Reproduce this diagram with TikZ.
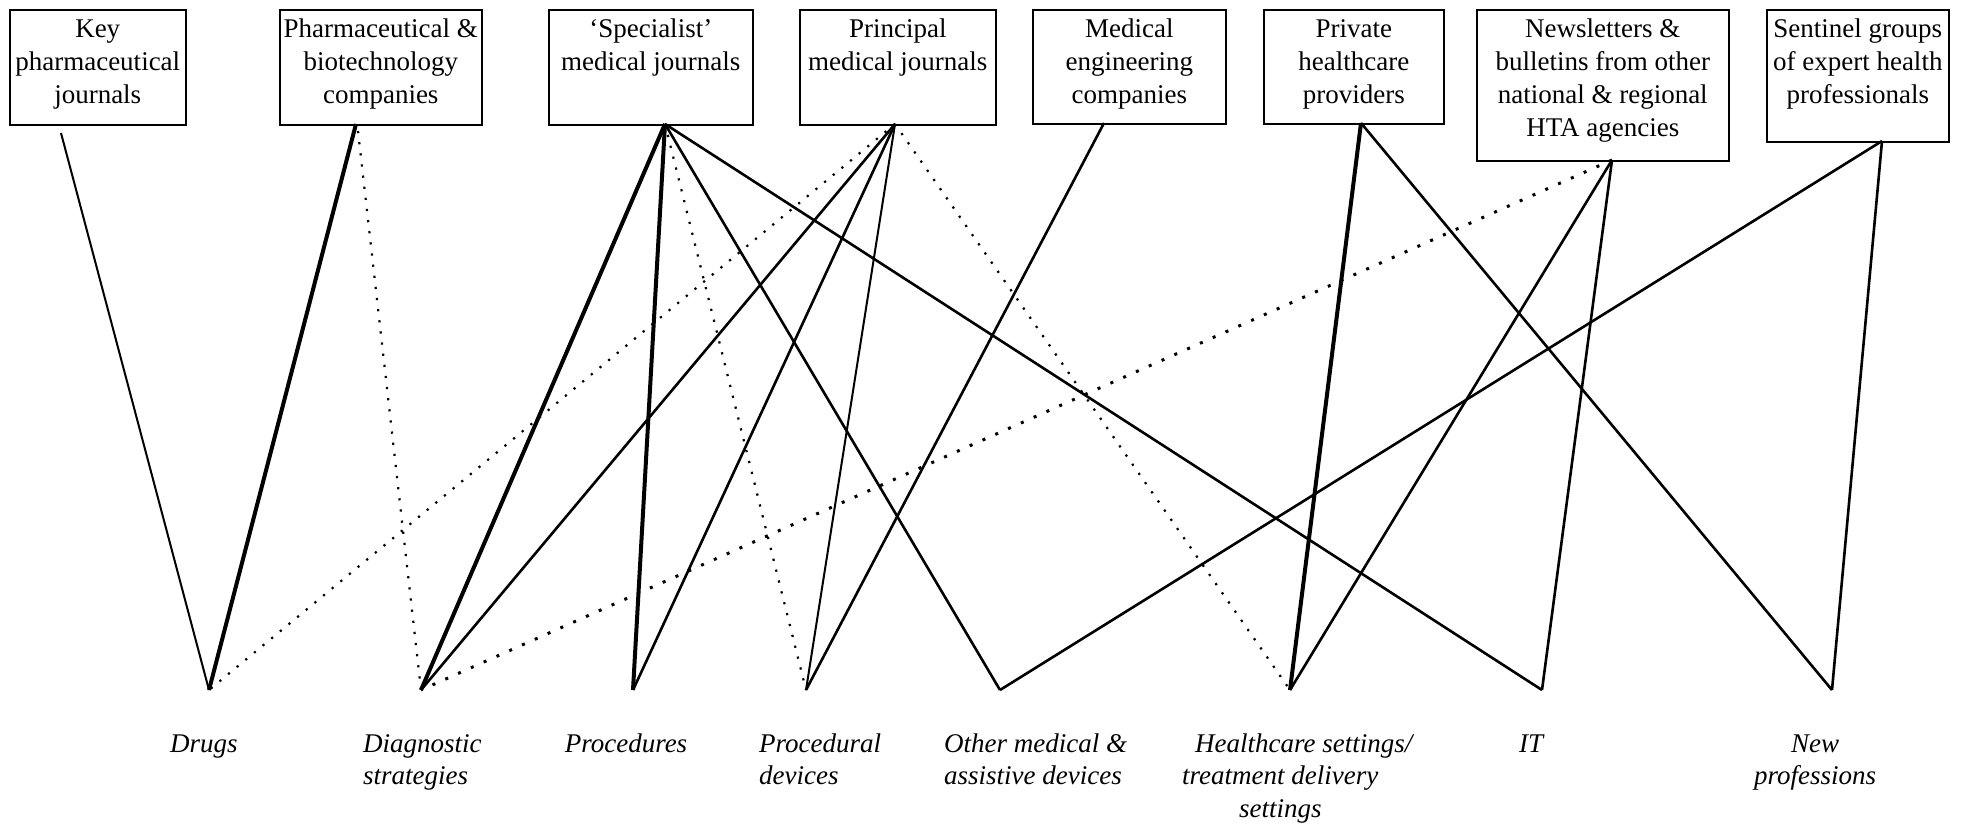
\documentclass[tikz,border=0pt]{standalone}
\usepackage{fontspec}
\setmainfont{Liberation Serif}
% source box: fixed width and height, text set from the top
\newcommand\srctext[3]{\parbox[t][#2pt][t]{#1pt}{\centering\fontsize{27}{33}\selectfont\rule{0pt}{28pt}#3}}
\begin{document}
\begin{tikzpicture}[x=1pt,y=-1pt,
  srcbox/.style={draw, line width=1.5pt, inner sep=0pt, anchor=north west},
  edge/.style={line width=2.6pt, line join=round},
  heavy/.style={line width=4pt, line join=round},
  light/.style={line width=2pt},
  dots/.style={line width=2.2pt, dash pattern=on 2.2pt off 9pt},
  bigdots/.style={line width=3pt, dash pattern=on 3pt off 11pt},
  lab/.style={font=\fontsize{27}{32.5}\selectfont\itshape, inner sep=0pt, align=left}
]
\useasboundingbox (0,0) rectangle (1968,825);

% information sources
\node[srcbox] (b1) at (9,9)    {\srctext{176}{115}{Key\\pharmaceutical\\journals}};
\node[srcbox] (b2) at (279,9)  {\srctext{202}{115}{Pharmaceutical \&\\biotechnology\\companies}};
\node[srcbox] (b3) at (548,9)  {\srctext{204}{115}{`Specialist'\\medical journals}};
\node[srcbox] (b4) at (799,9)  {\srctext{196}{115}{Principal\\medical journals}};
\node[srcbox] (b5) at (1032,9) {\srctext{193}{114}{Medical\\engineering\\companies}};
\node[srcbox] (b6) at (1263,9) {\srctext{180}{114}{Private\\healthcare\\providers}};
\node[srcbox] (b7) at (1476,9) {\srctext{252}{151}{Newsletters \&\\bulletins from other\\national \& regional\\HTA agencies}};
\node[srcbox] (b8) at (1766,9) {\srctext{182}{132}{Sentinel groups\\of expert health\\professionals}};

% where the links leave each source
\coordinate (a1) at (61,133);
\coordinate (a2) at (356,124);
\coordinate (a2d) at (358,131);
\coordinate (a3) at (665,124);
\coordinate (a4) at (895,124);
\coordinate (a5) at (1104,123);
\coordinate (a6) at (1361,123);
\coordinate (a7) at (1612,160);
\coordinate (a8) at (1882,141);

% technology types
\coordinate (d1) at (209,690);
\coordinate (d2) at (421,690);
\coordinate (d3) at (633,690);
\coordinate (d4) at (806,690);
\coordinate (d5) at (1000,690);
\coordinate (d6) at (1290,690);
\coordinate (d7) at (1542,690);
\coordinate (d8) at (1832,690);

\node[lab, anchor=north] (l1) at (204,731) {\rule{0pt}{21pt}Drugs};
\node[lab, anchor=north west] (l2) at (363,731) {\rule{0pt}{21pt}Diagnostic\\strategies};
\node[lab, anchor=north] (l3) at (626,731) {\rule{0pt}{21pt}Procedures};
\node[lab, anchor=north west] (l4) at (759,731) {\rule{0pt}{21pt}Procedural\\devices};
\node[lab, anchor=north west] (l5) at (944,731) {\rule{0pt}{21pt}Other medical \&\\assistive devices};
\node[lab, anchor=north west] (l6) at (1182,731) {\rule{0pt}{21pt}\hspace*{13pt}Healthcare settings/\\treatment delivery\\\hspace*{57pt}settings};
\node[lab, anchor=north] (l7) at (1531,731) {\rule{0pt}{21pt}IT};
\node[lab, anchor=north, align=center] (l8) at (1815,731) {\rule{0pt}{21pt}New\\professions};

% links
\draw[light] (a1) -- (d1);
\draw[heavy] (a2) -- (d1);
\draw[dots] (a2d) -- (d2);
\draw[heavy] (a3) -- (d2);
\draw[heavy] (a3) -- (d3);
\draw[dots] (a3) -- (d4);
\draw[edge] (a3) -- (d5);
\draw[edge] (a3) -- (d7);
\draw[dots] (a4) -- (d1);
\draw[edge] (a4) -- (d2);
\draw[edge] (a4) -- (d3);
\draw[light] (a4) -- (d4);
\draw[dots] (a4) -- (d6);
\draw[edge] (a5) -- (d4);
\draw[heavy] (a6) -- (d6);
\draw[edge] (a6) -- (d8);
\draw[bigdots] (a7) -- (d2);
\draw[edge] (a7) -- (d6);
\draw[edge] (a7) -- (d7);
\draw[edge] (a8) -- (d5);
\draw[edge] (a8) -- (d8);
\end{tikzpicture}
\end{document}
